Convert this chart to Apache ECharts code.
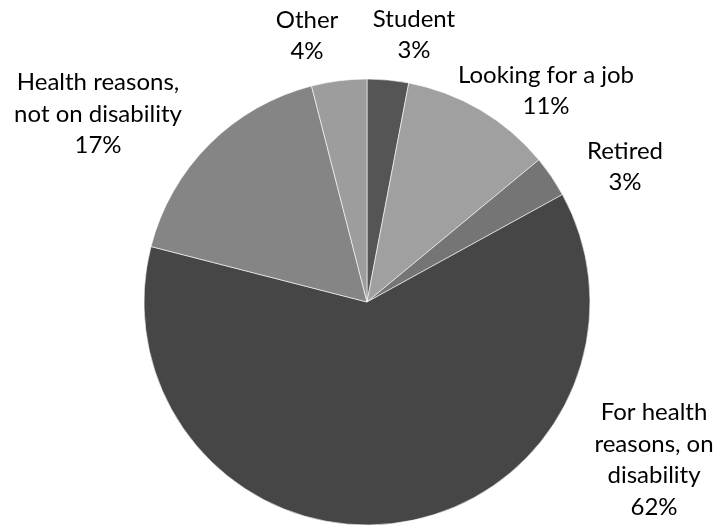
<!DOCTYPE html>
<html>
<head>
<meta charset="utf-8">
<script src="https://cdn.jsdelivr.net/npm/echarts@6/dist/echarts.min.js"></script>
<style>
  html, body { margin: 0; padding: 0; background: #ffffff; }
  #chart { width: 720px; height: 525px; }
</style>
</head>
<body>
<div id="chart"></div>
<script>
// Reasons for not working, share of respondents (%)
const categories = [
  'Student',
  'Looking for a job',
  'Retired',
  'For health\nreasons, on\ndisability',
  'Health reasons,\nnot on disability',
  'Other'
];
const percents = [3, 11, 3, 62, 17, 4];
const sliceColors = ['#555555', '#a0a0a0', '#757575', '#464646', '#858585', '#9d9d9d'];

// Where each label block is centred on the canvas
const labelAnchors = [
  [414, 35],
  [546, 91],
  [625, 167],
  [654, 460],
  [98, 114],
  [307, 36]
];

const chart = echarts.init(document.getElementById('chart'), null, { renderer: 'canvas' });

chart.setOption({
  backgroundColor: '#ffffff',
  animation: false,
  series: [{
    type: 'pie',
    center: [367, 302],
    radius: 223,
    startAngle: 90,
    clockwise: true,
    avoidLabelOverlap: false,
    data: categories.map((name, i) => ({
      name: name,
      value: percents[i],
      itemStyle: { color: sliceColors[i] }
    })),
    itemStyle: { borderColor: '#ffffff', borderWidth: 0.6 },
    label: {
      show: true,
      position: 'outside',
      formatter: p => p.name + '\n' + p.value + '%',
      fontFamily: 'Lato, "Open Sans", sans-serif',
      fontSize: 24,
      lineHeight: 31.5,
      color: '#000000',
      align: 'center'
    },
    labelLine: { show: false },
    labelLayout: params => ({
      x: labelAnchors[params.dataIndex][0],
      y: labelAnchors[params.dataIndex][1],
      align: 'center',
      verticalAlign: 'middle'
    }),
    emphasis: { disabled: true }
  }]
});
</script>
</body>
</html>
